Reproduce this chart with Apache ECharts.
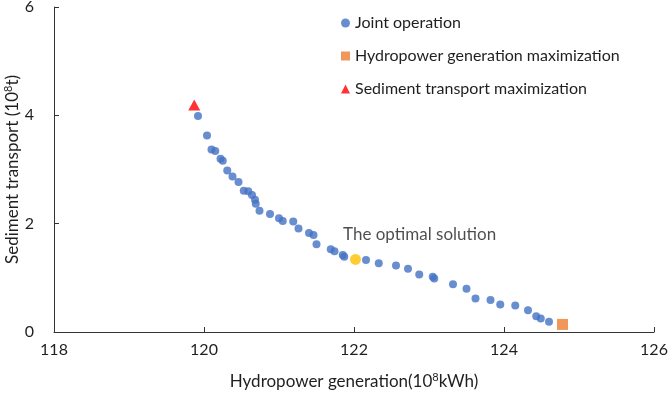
<!DOCTYPE html>
<html>
<head>
<meta charset="utf-8">
<script src="https://cdn.jsdelivr.net/npm/echarts@6/dist/echarts.min.js"></script>
<style>
	html, body { margin: 0; padding: 0; background: #fff; }
	#chart { width: 669px; height: 393px; }
</style>
</head>
<body>
<div id="chart"></div>
<script>
	// joint operation pareto points
	var jointX = [119.92, 120.04, 120.10, 120.15, 120.22, 120.25, 120.31, 120.38, 120.46, 120.53,
		120.59, 120.64, 120.68, 120.69, 120.74, 120.88, 121.00, 121.05, 121.19, 121.26,
		121.40, 121.46, 121.50, 121.69, 121.74, 121.85, 121.87, 122.16, 122.33, 122.56,
		122.72, 122.87, 123.05, 123.07, 123.32, 123.50, 123.62, 123.82, 123.95, 124.15,
		124.32, 124.43, 124.49, 124.60];
	var jointY = [3.99, 3.63, 3.37, 3.34, 3.20, 3.16, 2.98, 2.87, 2.77, 2.61,
		2.60, 2.53, 2.44, 2.37, 2.24, 2.18, 2.10, 2.05, 2.04, 1.91,
		1.83, 1.79, 1.62, 1.53, 1.49, 1.42, 1.39, 1.33, 1.27, 1.23,
		1.17, 1.06, 1.02, 0.99, 0.88, 0.80, 0.62, 0.59, 0.51, 0.49,
		0.40, 0.29, 0.25, 0.19];
	var hydroMax = [124.78, 0.14];
	var sedimentMax = [119.87, 4.19];
	var optimal = [122.02, 1.34];
	var xTicks = [118, 126, 2];
	var yTicks = [0, 6, 2];

	var font = 'Lato';
	var txt = '#1f1f1f';
	var myChart = echarts.init(document.getElementById('chart'));

	var jointData = [];
	for (var i = 0; i < jointX.length; i++) {
		jointData.push([jointX[i], jointY[i]]);
	}

	var option = {
		backgroundColor: '#fff',
		animation: false,
		textStyle: { fontFamily: font },
		grid: { left: 54, right: 15, top: 7, bottom: 61, outerBoundsMode: 'none' },
		legend: {
			orient: 'vertical',
			left: 336,
			top: 10,
			itemGap: 17,
			itemWidth: 9,
			itemHeight: 9,
			textStyle: { fontSize: 16, color: txt, fontFamily: font },
			data: [
				{ name: 'Joint operation', icon: 'circle' },
				{ name: 'Hydropower generation maximization', icon: 'rect' },
				{ name: 'Sediment transport maximization', icon: 'triangle' }
			]
		},
		xAxis: {
			type: 'value',
			min: xTicks[0],
			max: xTicks[1],
			interval: xTicks[2],
			name: '{a|Hydropower generation(10}{s|8}{a|kWh)}',
			nameLocation: 'middle',
			nameGap: 40,
			nameMoveOverlap: false,
			nameTextStyle: {
				rich: {
					a: { fontSize: 17, color: txt, fontFamily: font },
					s: { fontSize: 11, color: txt, fontFamily: font, padding: [0, 0, 8, 0] }
				}
			},
			axisLine: { lineStyle: { color: '#333', width: 1 } },
			axisTick: { inside: true, length: 5, lineStyle: { color: '#333' } },
			axisLabel: { fontSize: 16, color: txt, margin: 10 },
			splitLine: { show: false }
		},
		yAxis: {
			type: 'value',
			min: yTicks[0],
			max: yTicks[1],
			interval: yTicks[2],
			name: '{a|Sediment transport (10}{s|8}{a|t)}',
			nameLocation: 'middle',
			nameGap: 32,
			nameMoveOverlap: false,
			nameTextStyle: {
				rich: {
					a: { fontSize: 17, color: txt, fontFamily: font },
					s: { fontSize: 11, color: txt, fontFamily: font, padding: [0, 0, 8, 0] }
				}
			},
			axisLine: { show: true, lineStyle: { color: '#333', width: 1 } },
			axisTick: { show: true, inside: true, length: 5, lineStyle: { color: '#333' } },
			axisLabel: { fontSize: 16, color: txt, margin: 20 },
			splitLine: { show: false }
		},
		series: [{
			name: 'Joint operation',
			type: 'scatter',
			symbol: 'circle',
			symbolSize: 8,
			itemStyle: { color: '#4472C4' },
			data: jointData
		}, {
			name: 'Hydropower generation maximization',
			type: 'scatter',
			symbol: 'rect',
			symbolSize: 11,
			itemStyle: { color: '#ED7D31' },
			data: [hydroMax]
		}, {
			name: 'Sediment transport maximization',
			type: 'scatter',
			symbol: 'triangle',
			symbolSize: [12, 11],
			itemStyle: { color: '#FF0000' },
			data: [sedimentMax]
		}, {
			name: 'The optimal solution',
			type: 'scatter',
			symbol: 'circle',
			symbolSize: 11,
			itemStyle: { color: '#FFC000' },
			label: {
				show: true,
				formatter: 'The optimal solution',
				position: [-7, -28],
				align: 'left',
				verticalAlign: 'top',
				fontSize: 17,
				color: txt,
				fontFamily: font
			},
			data: [optimal]
		}]
	};
	myChart.setOption(option);
</script>
</body>
</html>
